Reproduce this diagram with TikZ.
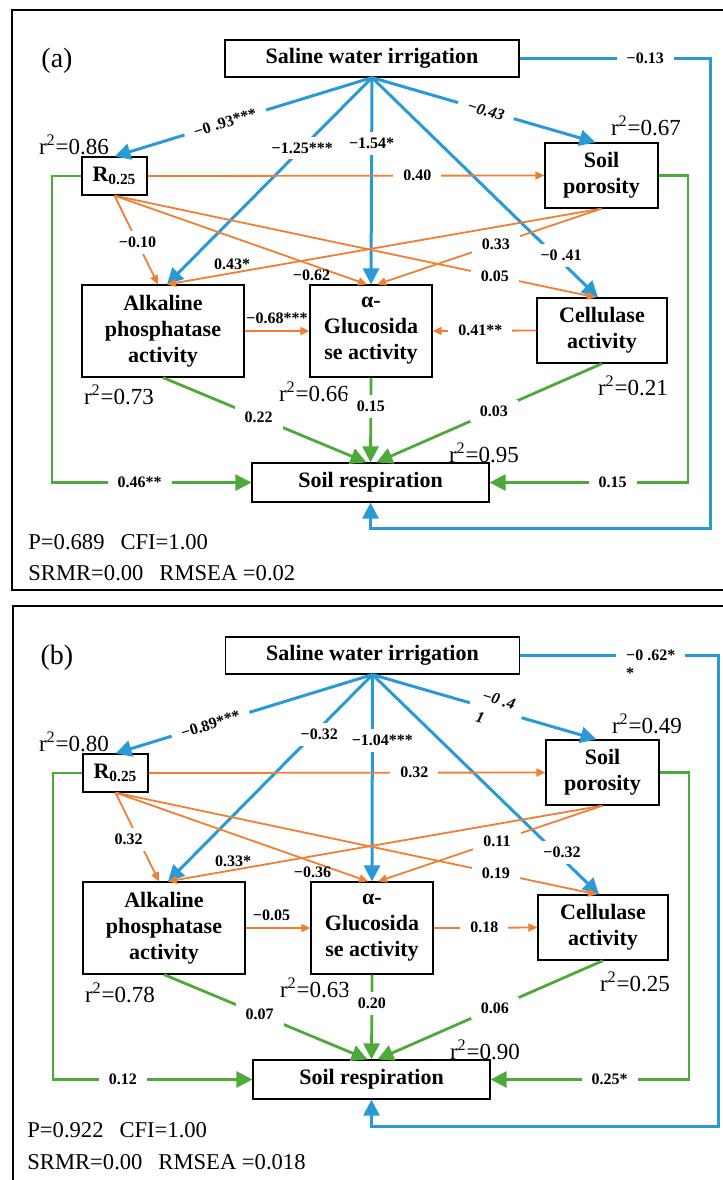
\documentclass[tikz,border=0pt]{standalone}
\usepackage{fontspec}
\setmainfont{Liberation Serif}
\usepackage{tikz}
\usetikzlibrary{arrows.meta, positioning, calc}
\definecolor{pathblue}{HTML}{2A9AD6}
\definecolor{pathorange}{HTML}{F07F33}
\definecolor{pathgreen}{HTML}{4DAA3A}

\begin{document}
\begin{tikzpicture}[x=0.5pt, y=-0.5pt,
      var/.style={draw, line width=0.6pt, inner sep=0pt, align=center,
                  font=\fontsize{11}{13}\selectfont\bfseries},
      coef/.style={fill=white, text=black, inner xsep=5pt, inner ysep=3pt,
                   font=\fontsize{8}{9}\selectfont\bfseries},
      coefi/.style={coef, font=\fontsize{8}{9}\selectfont\bfseries\itshape},
      coefp/.style={text=black, inner sep=1pt,
                    font=\fontsize{8}{9}\selectfont\bfseries},
      rsq/.style={font=\fontsize{11.5}{13}\selectfont},
      stat/.style={anchor=west, inner sep=0pt, font=\fontsize{11.3}{13}\selectfont},
      tag/.style={font=\fontsize{14}{16}\selectfont},
      arrb/.style={-{Triangle[length=8pt, width=8pt]}, line width=1.5pt, pathblue},
      arro/.style={-{Triangle[length=4.5pt, width=4pt]}, line width=0.9pt, pathorange},
      arrg/.style={-{Triangle[length=8pt, width=8pt]}, line width=1.4pt, pathgreen},
      frame/.style={line width=1pt}
    ]
      \useasboundingbox (0,0) rectangle (723,1180);

      % (a)
      \draw[frame] (723,10) -- (12,10) -- (12,590) -- (723,590);
      \node[tag] (taga) at (57,61) {(a)};

      \node[var, minimum width=147pt, minimum height=18.5pt] (sal1) at (372,58.5) {Saline water irrigation};
      \node[var, minimum width=32.5pt, minimum height=19pt] (r1) at (114.5,176) {R\textsubscript{0.25}};
      \node[var, minimum width=56.5pt, minimum height=32.5pt] (por1) at (601.5,175.5) {Soil\\porosity};
      \node[var, minimum width=81pt, minimum height=46pt] (alk1) at (163,331) {Alkaline\\phosphatase\\activity};
      \node[var, minimum width=61pt, minimum height=46pt] (glu1) at (371,331) {α-\\Glucosida\\se activity};
      \node[var, minimum width=65pt, minimum height=32.5pt] (cel1) at (602,330.5) {Cellulase\\activity};
      \node[var, minimum width=118.5pt, minimum height=19.5pt] (res1) at (370.5,482.5) {Soil respiration};

      \node[rsq] (qr1) at (74,145) {r\textsuperscript{2}=0.86};
      \node[rsq] (qp1) at (646,126) {r\textsuperscript{2}=0.67};
      \node[rsq] (qa1) at (119,395) {r\textsuperscript{2}=0.73};
      \node[rsq] (qg1) at (314,392) {r\textsuperscript{2}=0.66};
      \node[rsq] (qc1) at (633,386) {r\textsuperscript{2}=0.21};
      \node[rsq] (qs1) at (484,453) {r\textsuperscript{2}=0.95};

      \coordinate (bl1) at (710,528);
      \coordinate (gl1) at (52,482.5);
      \coordinate (gr1) at (688,482.5);

      \draw[arrb] (sal1.south) -- node[coef, sloped, pos=0.57] {−0 .93***} (r1.north);
      \draw[arrb] (sal1.south) -- node[coef, pos=0.34] {−1.25***} ([xshift=2pt]alk1.north);
      \draw[arrb] (sal1.south) -- node[coef, pos=0.32] {−1.54*} (glu1.north);
      \draw[arrb] (sal1.south) -- node[coefi, sloped, pos=0.51] {−0.43} ([xshift=-3pt]por1.north);
      \draw[arrb] (sal1.south) -- node[coef, pos=0.81, xshift=3pt] {−0 .41} ([xshift=-2pt]cel1.north);
      \draw[arrb] (sal1.east) -| node[coef, pos=0.33] {−0.13} (bl1) -| (res1.south);

      \draw[arro] (r1.east) -- node[coef, pos=0.68] {0.40} (por1.west);
      \draw[arro] (r1.south) -- node[coef, pos=0.53] {−0.10} ([xshift=-2.5pt]alk1.north);
      \draw[arro] (r1.south) -- node[coefp, pos=0.78, below=1pt] {−0.62} ([xshift=-2pt]glu1.north);
      \draw[arro] (r1.south) -- node[coef, pos=0.79] {0.05} ([xshift=-3pt]cel1.north);
      \draw[arro] (por1.south) -- node[coefp, pos=0.85, above] {0.43*} ([xshift=2pt]alk1.north);
      \draw[arro] (por1.south) -- node[coef, pos=0.47] {0.33} ([xshift=3pt]glu1.north);
      \draw[arro] (cel1.west) -- node[coef, pos=0.54] {0.41**} (glu1.east);
      \draw[arro] (alk1.east) -- node[coefp, above=2pt] {−0.68***} (glu1.west);

      \draw[arrg] (r1.west) -| (gl1) -- node[coef, pos=0.44] {0.46**} (res1.west);
      \draw[arrg] (alk1.south) -- node[coef, pos=0.47] {0.22} ([xshift=-2pt]res1.north);
      \draw[arrg] (glu1.south) -- node[coef, pos=0.34] {0.15} (res1.north);
      \draw[arrg] (cel1.south) -- node[coef, pos=0.48] {0.03} ([xshift=3pt]res1.north);
      \draw[arrg] (por1.east) -| (gr1) -- node[coef, pos=0.38] {0.15} (res1.east);

      \node[stat] (pa) at (28,542) {P=0.689\hspace{8pt}CFI=1.00};
      \node[stat] (ma) at (28,573) {SRMR=0.00\hspace{8pt}RMSEA =0.02};

      % (b)
      \draw[frame] (723,606) -- (13,606) -- (13,1185);
      \begin{scope}[shift={(0,597)}]
      \node[tag] (tagb) at (57,61) {(b)};

      \node[var, minimum width=147pt, minimum height=18.5pt] (sal2) at (372.5,58.5) {Saline water irrigation};
      \node[var, minimum width=32.5pt, minimum height=19pt] (r2) at (115.5,176) {R\textsubscript{0.25}};
      \node[var, minimum width=56.5pt, minimum height=32.5pt] (por2) at (602.5,175.5) {Soil\\porosity};
      \node[var, minimum width=81pt, minimum height=46pt] (alk2) at (164,331) {Alkaline\\phosphatase\\activity};
      \node[var, minimum width=61pt, minimum height=46pt] (glu2) at (372,331) {α-\\Glucosida\\se activity};
      \node[var, minimum width=65pt, minimum height=32.5pt] (cel2) at (603,330.5) {Cellulase\\activity};
      \node[var, minimum width=118.5pt, minimum height=19.5pt] (res2) at (371.5,482.5) {Soil respiration};

      \node[rsq] (qr2) at (74,145) {r\textsuperscript{2}=0.80};
      \node[rsq] (qp2) at (647,127) {r\textsuperscript{2}=0.49};
      \node[rsq] (qa2) at (120,396) {r\textsuperscript{2}=0.78};
      \node[rsq] (qg2) at (315,391) {r\textsuperscript{2}=0.63};
      \node[rsq] (qc2) at (635,385) {r\textsuperscript{2}=0.25};
      \node[rsq] (qs2) at (485,453) {r\textsuperscript{2}=0.90};

      \coordinate (bl2) at (718,529);
      \coordinate (gl2) at (53,482.5);
      \coordinate (gr2) at (689,482.5);

      \draw[arrb] (sal2.south) -- node[coef, sloped, pos=0.63] {−0.89***} (r2.north);
      \draw[arrb] (sal2.south) -- node[coef, pos=0.29, xshift=3pt] {−0.32} ([xshift=2pt]alk2.north);
      \draw[arrb] (sal2.south) -- node[coef, pos=0.32, xshift=5pt] {−1.04***} (glu2.north);
      \draw[arrb] (sal2.south) -- node[coefi, sloped, pos=0.55, align=left] {−0 .4\\[2pt]1} ([xshift=-3pt]por2.north);
      \draw[arrb] (sal2.south) -- node[coef, pos=0.81, xshift=3pt] {−0.32} ([xshift=-2pt]cel2.north);
      \draw[arrb] (sal2.east) -| node[coef, pos=0.33, align=left, yshift=-4.5pt] {−0 .62*\\*} (bl2) -| (res2.south);

      \draw[arro] (r2.east) -- node[coef, pos=0.67] {0.32} (por2.west);
      \draw[arro] (r2.south) -- node[coef, pos=0.53, xshift=-5pt] {0.32} ([xshift=-2.5pt]alk2.north);
      \draw[arro] (r2.south) -- node[coefp, pos=0.78, below=1pt] {−0.36} ([xshift=-2pt]glu2.north);
      \draw[arro] (r2.south) -- node[coef, pos=0.79] {0.19} ([xshift=-3pt]cel2.north);
      \draw[arro] (por2.south) -- node[coefp, pos=0.85, above] {0.33*} ([xshift=2pt]alk2.north);
      \draw[arro] (por2.south) -- node[coef, pos=0.47] {0.11} ([xshift=3pt]glu2.north);
      \draw[arro] (glu2.east) -- node[coef, pos=0.49] {0.18} (cel2.west);
      \draw[arro] (alk2.east) -- node[coefp, pos=0.4, above=2pt] {−0.05} (glu2.west);

      \draw[arrg] (r2.west) -| (gl2) -- node[coef, pos=0.35] {0.12} (res2.west);
      \draw[arrg] (alk2.south) -- node[coef, pos=0.47] {0.07} ([xshift=-2pt]res2.north);
      \draw[arrg] (glu2.south) -- node[coef, pos=0.34] {0.20} (res2.north);
      \draw[arrg] (cel2.south) -- node[coef, pos=0.48] {0.06} ([xshift=3pt]res2.north);
      \draw[arrg] (por2.east) -| (gr2) -- node[coef, pos=0.40] {0.25*} (res2.east);

      \node[stat] (pb) at (27,533) {P=0.922\hspace{8pt}CFI=1.00};
      \node[stat] (mb) at (27,565) {SRMR=0.00\hspace{8pt}RMSEA =0.018};
      \end{scope}
    \end{tikzpicture}
\end{document}
